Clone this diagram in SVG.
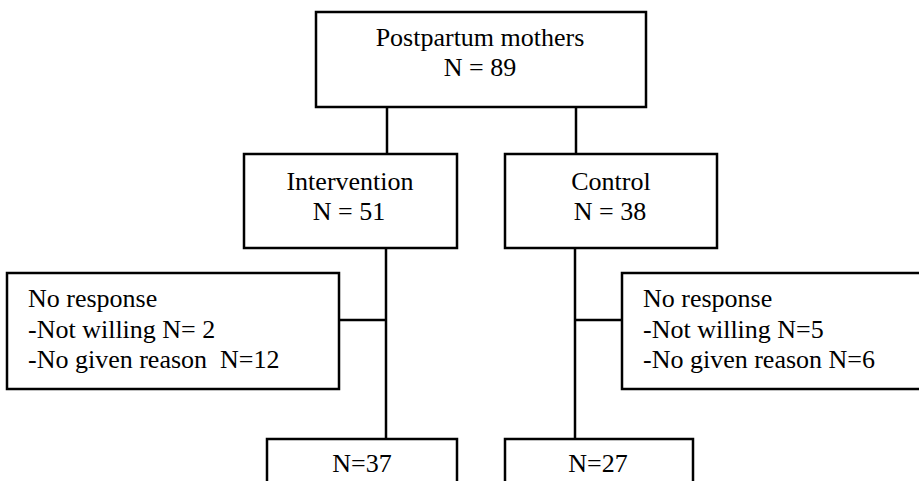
<svg xmlns="http://www.w3.org/2000/svg" width="919" height="481" viewBox="0 0 919 481">
<style>
.box{fill:#fff;stroke:#000;stroke-width:2.5}
.ln{stroke:#000;stroke-width:2.5;fill:none}
.c{text-anchor:middle}
</style>
<rect width="919" height="481" fill="#fff"/>
<g id="connectors">
<line class="ln" x1="387" y1="107" x2="387" y2="154"/>
<line class="ln" x1="576" y1="107" x2="576" y2="154"/>
<line class="ln" x1="386" y1="248" x2="386" y2="439"/>
<line class="ln" x1="575" y1="248" x2="575" y2="439"/>
<line class="ln" x1="339" y1="320" x2="386" y2="320"/>
<line class="ln" x1="575" y1="320" x2="622" y2="320"/>
</g>
<g font-family="Liberation Serif, DejaVu Serif, serif" font-size="26" fill="#000">
<g id="top">
<rect class="box" x="316" y="12" width="330" height="95"/>
<text class="c" x="480" y="46">Postpartum mothers</text>
<text class="c" x="480" y="76">N = 89</text>
</g>
<g id="intervention">
<rect class="box" x="244" y="154" width="213" height="94"/>
<text class="c" x="350" y="190">Intervention</text>
<text class="c" x="349" y="220">N = 51</text>
</g>
<g id="control">
<rect class="box" x="505" y="154" width="212" height="94"/>
<text class="c" x="611" y="190">Control</text>
<text class="c" x="610" y="220">N = 38</text>
</g>
<g id="noresp-left">
<rect class="box" x="7" y="273" width="332" height="116"/>
<text x="28" y="307">No response</text>
<text x="28" y="338">-Not willing N= 2</text>
<text x="28" y="368" xml:space="preserve">-No given reason  N=12</text>
</g>
<g id="noresp-right">
<rect class="box" x="622" y="273" width="310" height="116"/>
<text x="643" y="307">No response</text>
<text x="643" y="338">-Not willing N=5</text>
<text x="643" y="368">-No given reason N=6</text>
</g>
<g id="final-left">
<rect class="box" x="267" y="439" width="190" height="60"/>
<text class="c" x="362" y="472">N=37</text>
</g>
<g id="final-right">
<rect class="box" x="505" y="439" width="188" height="60"/>
<text class="c" x="598" y="472">N=27</text>
</g>
</g>
</svg>
